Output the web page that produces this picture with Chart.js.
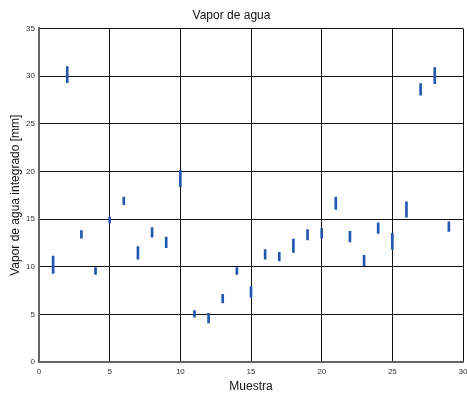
<!DOCTYPE html>
<html lang="es">
<head>
<meta charset="UTF-8">
<title>Vapor de agua</title>
<script src="https://cdn.jsdelivr.net/npm/chart.js"></script>
<style>
    body { margin: 0; padding: 0; background: #ffffff; }
    #wrap { width: 467px; height: 394px; }
</style>
</head>
<body>
<div id="wrap"><canvas id="vaporChart"></canvas></div>
<script>
    // muestras y rango de lecturas (min / max) de cada una
    const muestras = [1, 2, 3, 4, 5, 6, 7, 8, 9, 10, 11, 12, 13, 14, 15,
                      16, 17, 18, 19, 20, 21, 22, 23, 24, 25, 26, 27, 28, 29];
    const vaporMin = [9.3, 29.3, 13.0, 9.2, 14.6, 16.5, 10.8, 13.1, 12.0, 18.4,
                      4.7, 4.1, 6.2, 9.2, 6.8, 10.8, 10.6, 11.5, 12.8, 13.0,
                      16.0, 12.6, 10.1, 13.5, 11.8, 15.2, 28.0, 29.2, 13.7];
    const vaporMax = [11.1, 31.0, 13.8, 9.9, 15.2, 17.3, 12.1, 14.1, 13.1, 20.1,
                      5.4, 5.1, 7.1, 9.9, 7.9, 11.8, 11.5, 12.9, 13.9, 14.0,
                      17.3, 13.7, 11.2, 14.6, 13.5, 16.8, 29.2, 30.9, 14.7];
    const xTicks = [0, 5, 10, 15, 20, 25, 30];
    const yTicks = [0, 5, 10, 15, 20, 25, 30, 35];

    const puntos = muestras.map((m, i) => ({ x: m, y: [vaporMin[i], vaporMax[i]] }));

    const fuente = "'Liberation Sans', Arial, sans-serif";

    new Chart(document.getElementById('vaporChart'), {
        type: 'bar',
        data: {
            datasets: [{
                label: 'Vapor de agua',
                data: puntos,
                backgroundColor: '#2457b0',
                borderWidth: 0,
                barThickness: 2
            }]
        },
        options: {
            responsive: true,
            maintainAspectRatio: false,
            animation: false,
            layout: { padding: { left: 0, right: 4, top: 0, bottom: 0 } },
            plugins: {
                legend: { display: false },
                tooltip: { enabled: false },
                title: {
                    display: true,
                    text: 'Vapor de agua',
                    color: '#111',
                    font: { family: fuente, size: 12, weight: 'normal' },
                    padding: { top: 8, bottom: 6 }
                }
            },
            scales: {
                x: {
                    type: 'linear',
                    min: 0,
                    max: 30,
                    offset: false,
                    afterBuildTicks: s => { s.ticks = xTicks.map(v => ({ value: v })); },
                    afterFit: s => { s.height = 32; s.paddingLeft = 0; s.paddingRight = 0; },
                    grid: { color: '#111', lineWidth: 1, drawTicks: false, offset: false },
                    border: { color: '#666', width: 2 },
                    ticks: { color: '#333', font: { family: fuente, size: 8 }, padding: 5, maxRotation: 0 },
                    title: {
                        display: true,
                        text: 'Muestra',
                        color: '#111',
                        font: { family: fuente, size: 12 },
                        padding: { top: 0, bottom: 0 }
                    }
                },
                y: {
                    min: 0,
                    max: 35,
                    afterBuildTicks: s => { s.ticks = yTicks.map(v => ({ value: v })); },
                    afterFit: s => { s.width = 39; },
                    grid: { color: '#111', lineWidth: 1, drawTicks: false },
                    border: { color: '#666', width: 2 },
                    ticks: { color: '#333', font: { family: fuente, size: 8 }, padding: 4 },
                    title: {
                        display: true,
                        text: 'Vapor de agua integrado [mm]',
                        color: '#111',
                        font: { family: fuente, size: 12 },
                        padding: { top: 8, bottom: 0 }
                    }
                }
            }
        }
    });
</script>
</body>
</html>
